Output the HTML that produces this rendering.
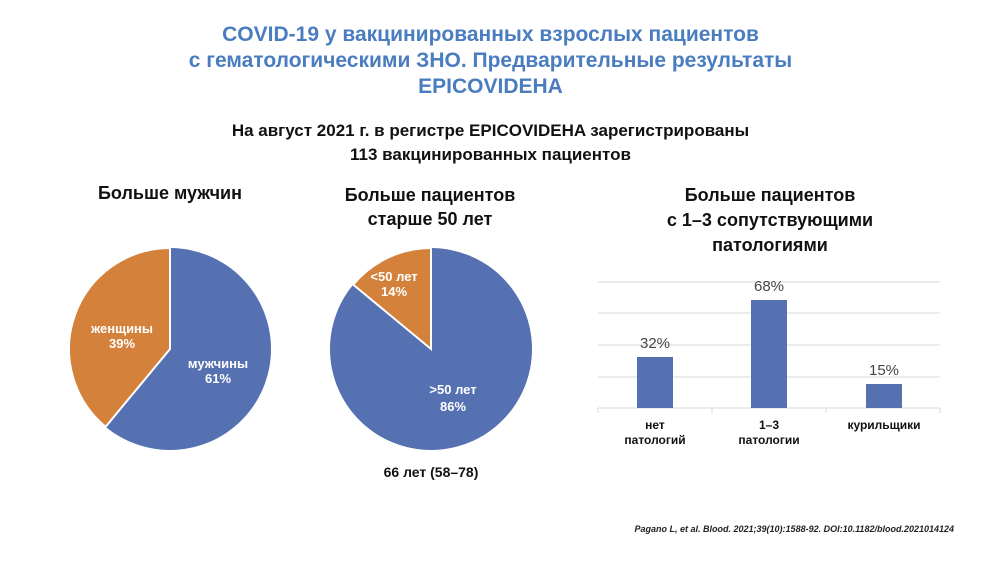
<!DOCTYPE html>
<html><head><meta charset="utf-8"><style>
body{margin:0;width:981px;height:563px;background:#fff;font-family:"Liberation Sans",Arial,sans-serif;position:relative;overflow:hidden}
.a{position:absolute;text-align:center;white-space:nowrap}
.t{color:#4a7cc0;font-weight:bold;font-size:21px;line-height:26px;left:0;width:981px;top:22px}
.b{font-weight:bold;color:#111}
</style></head><body>
<div class="a t">COVID-19 у вакцинированных взрослых пациентов<br>с гематологическими ЗНО. Предварительные результаты<br>EPICOVIDEHA</div>
<div class="a b" style="left:0;width:981px;top:119px;font-size:17px;line-height:24px">На август 2021 г. в регистре EPICOVIDEHA зарегистрированы<br>113 вакцинированных пациентов</div>
<div class="a b" style="left:40px;width:260px;top:183px;font-size:18px">Больше мужчин</div>
<div class="a b" style="left:300px;width:260px;top:183px;font-size:18px;line-height:24px">Больше пациентов<br>старше 50 лет</div>
<div class="a b" style="left:630px;width:280px;top:183px;font-size:18px;line-height:25px">Больше пациентов<br>с 1–3 сопутствующими<br>патологиями</div>
<svg width="981" height="563" style="position:absolute;left:0;top:0" font-family="Liberation Sans,Arial,sans-serif">
<circle cx="170" cy="349" r="101" fill="#5571b2"/>
<path d="M170 349 L170 248 A101 101 0 0 0 105.6 426.8 Z" fill="#d4813b" stroke="#fff" stroke-width="2"/>
<circle cx="431" cy="349" r="101" fill="#5571b2"/>
<path d="M431 349 L431 248 A101 101 0 0 0 353.2 284.6 Z" fill="#d4813b" stroke="#fff" stroke-width="2"/>
<g fill="#fff" font-size="13" font-weight="bold" text-anchor="middle">
<text x="122" y="333">женщины</text><text x="122" y="348">39%</text>
<text x="218" y="368">мужчины</text><text x="218" y="383">61%</text>
<text x="394" y="281">&lt;50 лет</text><text x="394" y="296">14%</text>
<text x="453" y="394">&gt;50 лет</text><text x="453" y="411">86%</text>
</g>
<g stroke="#d9d9d9" stroke-width="1">
<line x1="598" y1="282" x2="940" y2="282"/><line x1="598" y1="313" x2="940" y2="313"/>
<line x1="598" y1="345" x2="940" y2="345"/><line x1="598" y1="377" x2="940" y2="377"/>
<line x1="598" y1="408" x2="940" y2="408"/>
<line x1="598" y1="408" x2="598" y2="413"/><line x1="712" y1="408" x2="712" y2="413"/>
<line x1="826" y1="408" x2="826" y2="413"/><line x1="940" y1="408" x2="940" y2="413"/>
</g>
<rect x="637" y="357" width="36" height="51" fill="#5571b2"/>
<rect x="751" y="300" width="36" height="108" fill="#5571b2"/>
<rect x="866" y="384" width="36" height="24" fill="#5571b2"/>
<g fill="#444" font-size="15" text-anchor="middle">
<text x="655" y="348">32%</text><text x="769" y="291">68%</text><text x="884" y="375">15%</text>
</g>
<g fill="#111" font-size="12" font-weight="bold" text-anchor="middle">
<text x="655" y="429">нет</text><text x="655" y="444">патологий</text>
<text x="769" y="429">1–3</text><text x="769" y="444">патологии</text>
<text x="884" y="429">курильщики</text>
</g>
<text x="431" y="477" font-size="14" font-weight="bold" text-anchor="middle" fill="#111">66 лет (58–78)</text>
<text x="954" y="532" font-size="9" font-weight="bold" font-style="italic" text-anchor="end" fill="#222">Pagano L, et al. Blood. 2021;39(10):1588-92. DOI:10.1182/blood.2021014124</text>
</svg>
</body></html>
